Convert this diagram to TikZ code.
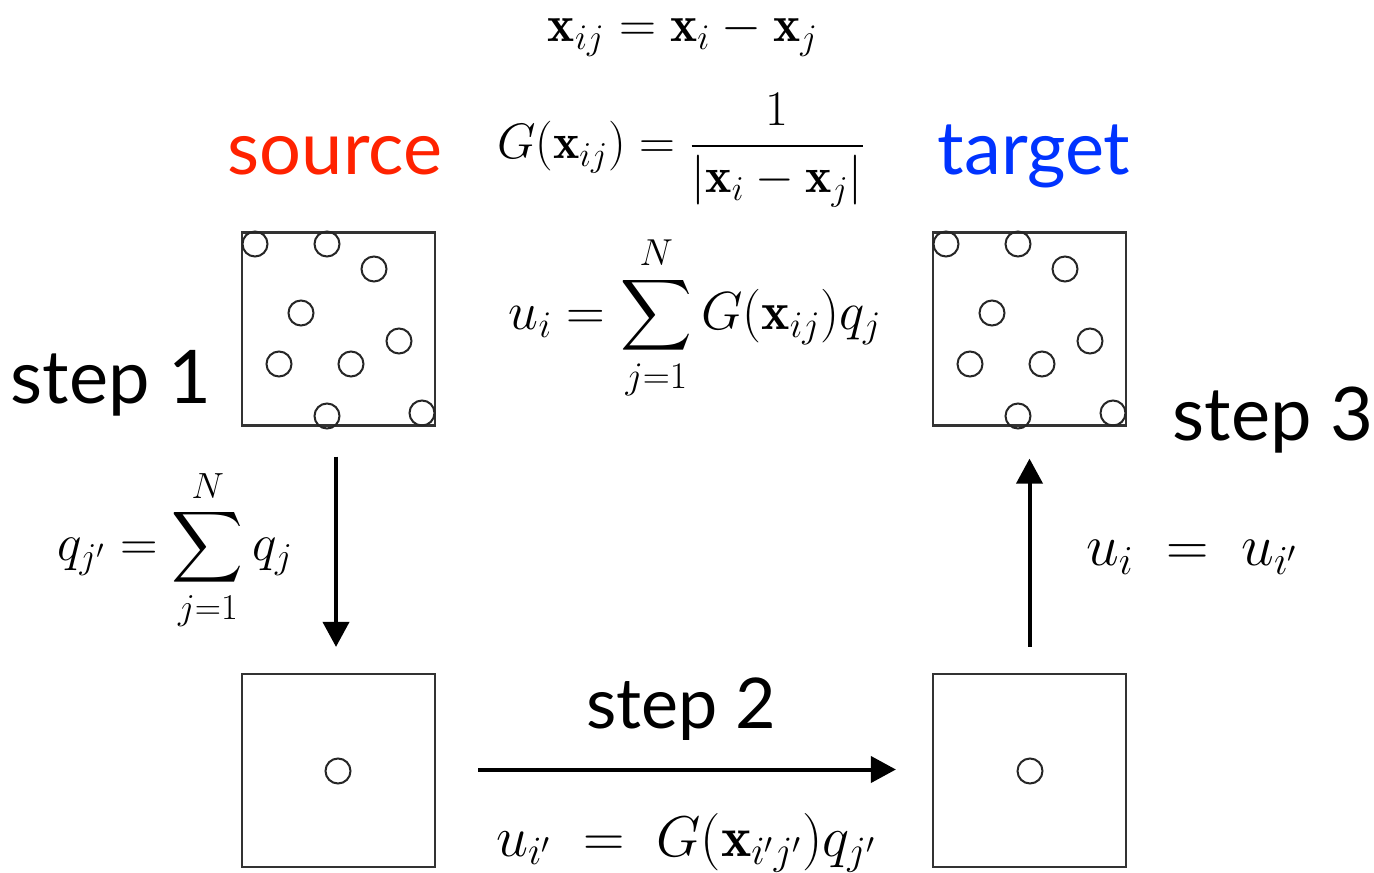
\RequirePackage{fix-cm}
\documentclass[tikz,border=0pt]{standalone}
\usepackage{amsmath}
\usepackage{fontspec}
\newfontfamily\labelfont{Lato}
\usetikzlibrary{arrows.meta}
\definecolor{srcred}{HTML}{FF2200}
\definecolor{tgtblue}{HTML}{0033FF}
\definecolor{boxgray}{HTML}{333333}
\tikzset{
  cell/.style={draw=boxgray, line width=1.1pt, minimum size=96.5pt, inner sep=0pt},
  particle/.style={circle, draw=black!85, line width=1pt, minimum size=12.5pt, inner sep=0pt},
  flow/.style={line width=2pt, -{Triangle[length=12.5pt,width=13pt]}},
  steplabel/.style={font=\labelfont\fontsize{37}{40}\selectfont, inner sep=0pt, anchor=base},
  steptwo/.style={font=\labelfont\fontsize{35}{38}\selectfont, inner sep=0pt, anchor=base},
  headlabel/.style={font=\labelfont\fontsize{37}{40}\selectfont, inner sep=0pt, anchor=base},
  eq/.style={font=\fontsize{26}{30}\selectfont, inner sep=0pt},
}
\begin{document}
\begin{tikzpicture}[x=0.5pt, y=-0.5pt]
\useasboundingbox (0,0) rectangle (1374,872);

% boxes
\node[cell] (src) at (338.5,329) {};
\node[cell] (tgt) at (1029.5,329) {};
\node[cell] (bl) at (338.5,770.5) {};
\node[cell] (br) at (1029.5,770.5) {};

% particles in source and target boxes
\foreach \dx/\dy [count=\k] in {13/11,85/11,132/36,59/80,157/108,37/131,109/131,85/183,180/180}{
  \node[particle] (s\k) at (242+\dx,233+\dy) {};
  \node[particle] (t\k) at (933+\dx,233+\dy) {};
}
\node[particle] (bp) at (338,771) {};
\node[particle] (rp) at (1030,771) {};

% labels
\node[headlabel, text=srcred] (lsrc) at (335,174) {source};
\node[headlabel, text=tgtblue] (ltgt) at (1034,174) {target};
\node[steplabel] (st1) at (111,403) {step 1};
\node[steplabel] (st3) at (1273,440) {step 3};
\node[steptwo] (st2) at (681,728) {step 2};

% equations
\node[eq, font=\fontsize{25.7}{30}\selectfont] (e1) at (683,34) {$\mathbf{x}_{ij}=\mathbf{x}_i-\mathbf{x}_j$};
\node[eq, font=\fontsize{24.9}{30}\selectfont] (e2) at (681,150) {$\displaystyle G(\mathbf{x}_{ij})=\frac{1}{|\mathbf{x}_i-\mathbf{x}_j|}$};
\node[eq, font=\fontsize{26.8}{30}\selectfont] (e3) at (695,318) {$\displaystyle u_i=\sum_{j=1}^{N}G(\mathbf{x}_{ij})q_j$};
\node[eq] (e4) at (175,550) {$\displaystyle q_{j'}=\sum_{j=1}^{N}q_j$};
\node[eq, font=\fontsize{28.7}{32}\selectfont] (e5) at (686,843) {$u_{i'}\;=\;G(\mathbf{x}_{i'j'})q_{j'}$};
\node[eq, font=\fontsize{29.4}{34}\selectfont] (e6) at (1192,557) {$u_i\;=\;u_{i'}$};

% connectors
\draw[flow, shorten <=15pt, shorten >=13pt] ([xshift=-1.25pt]src.south) -- ([xshift=-1.25pt]bl.north);
\draw[flow, shorten <=21pt, shorten >=18pt] ([yshift=0.5pt]bl.east) -- ([yshift=0.5pt]br.west);
\draw[flow, shorten <=13pt, shorten >=16pt] (br.north) -- (tgt.south);
\end{tikzpicture}
\end{document}
